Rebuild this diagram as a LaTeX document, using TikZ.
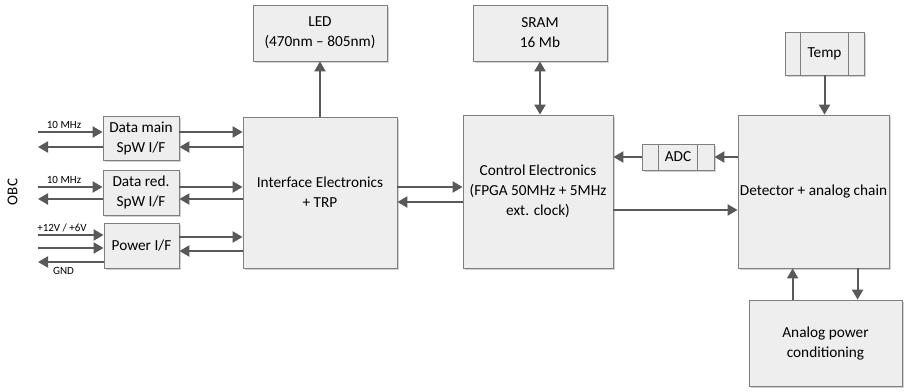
\documentclass[tikz,border=0pt]{standalone}
\usepackage{fontspec}
\setmainfont{Carlito}
\usetikzlibrary{arrows.meta,shadows,calc}
\definecolor{boxfill}{HTML}{EEEEEE}
\definecolor{boxline}{HTML}{7F7F7F}
\definecolor{arrcol}{HTML}{595959}
\tikzset{
  box/.style={draw=boxline, fill=boxfill, line width=0.8pt, align=center, inner sep=0pt,
    font=\fontsize{15.3}{20}\selectfont,
    drop shadow={shadow xshift=1.5pt, shadow yshift=-1.5pt, opacity=0.35, fill=gray}},
  arr/.style={draw=arrcol, line width=2pt, -{Triangle[length=10pt,width=11pt]}},
  darr/.style={draw=arrcol, line width=2pt, {Triangle[length=10pt,width=11pt]}-{Triangle[length=10pt,width=11pt]}},
  lbl/.style={font=\fontsize{11}{13}\selectfont, inner sep=1pt},
  inner line/.style={draw=boxline, line width=0.8pt}
}
\begin{document}
\begin{tikzpicture}[x=1pt,y=-1pt]
\useasboundingbox[fill=white] (0,0) rectangle (904,391);
% boxes
\node[box, minimum width=134pt, minimum height=56pt] (led) at (320,33) {LED\\(470nm -- 805nm)};
\node[box, minimum width=134pt, minimum height=56pt] (sram) at (540,33) {SRAM\\16 Mb};
\node[box, minimum width=79pt, minimum height=43pt] (temp) at (824.5,53.5) {Temp};
\draw[inner line] ([xshift=16pt]temp.north west) -- ([xshift=16pt]temp.south west);
\draw[inner line] ([xshift=-16pt]temp.north east) -- ([xshift=-16pt]temp.south east);
\node[box, minimum width=151pt, minimum height=153pt] (det) at (813.5,191.5) {Detector + analog chain};
\node[box, minimum width=153pt, minimum height=86pt] (apc) at (825.5,343) {Analog power\\conditioning};
\node[box, minimum width=72pt, minimum height=26pt] (adc) at (678,157) {ADC};
\draw[inner line] ([xshift=17pt]adc.north west) -- ([xshift=17pt]adc.south west);
\draw[inner line] ([xshift=-17pt]adc.north east) -- ([xshift=-17pt]adc.south east);
\node[box, minimum width=150pt, minimum height=153pt] (ce) at (538,191.5) {Control Electronics\\(FPGA 50MHz + 5MHz\\ext. clock)};
\node[box, minimum width=154pt, minimum height=151pt] (ie) at (320,192.5) {Interface Electronics\\+ TRP};
\node[box, minimum width=76pt, minimum height=44pt] (dm) at (141,138) {Data main\\SpW I/F};
\node[box, minimum width=76pt, minimum height=45pt] (dr) at (141,192.5) {Data red.\\SpW I/F};
\node[box, minimum width=75pt, minimum height=45pt] (pw) at (141.5,245.5) {Power I/F};
% free ends
\coordinate (a1) at (38,132);
\coordinate (a2) at (38,147);
\coordinate (b1) at (38,187);
\coordinate (b2) at (38,199);
\coordinate (c1) at (38,235);
\coordinate (c2) at (38,248);
\coordinate (c3) at (38,262);
% left side
\draw[arr] (a1) -- (a1 -| dm.west);
\draw[arr] (a2 -| dm.west) -- (a2);
\draw[arr] (b1) -- (b1 -| dr.west);
\draw[arr] (b2 -| dr.west) -- (b2);
\draw[arr] (c1) -- (c1 -| pw.west);
\draw[arr] (c2) -- (c2 -| pw.west);
\draw[arr] (c3 -| pw.west) -- (c3);
\node[lbl, anchor=south] (l1) at (64,130) {10 MHz};
\node[lbl, anchor=south] (l2) at (64,185) {10 MHz};
\node[lbl, anchor=south] (l3) at (62,233) {+12V / +6V};
\node[lbl, anchor=north] (l4) at (63.5,266) {GND};
\node[font=\fontsize{15}{18}\selectfont, rotate=90] (obc) at (12.5,192) {OBC};
% to interface
\draw[arr] ([yshift=6pt]dm.east) -- ([yshift=6pt]dm.east -| ie.west);
\draw[arr] ([yshift=-9pt]dm.east -| ie.west) -- ([yshift=-9pt]dm.east);
\draw[arr] ([yshift=5.5pt]dr.east) -- ([yshift=5.5pt]dr.east -| ie.west);
\draw[arr] ([yshift=-6.5pt]dr.east -| ie.west) -- ([yshift=-6.5pt]dr.east);
\draw[arr] ([yshift=8.5pt]pw.east) -- ([yshift=8.5pt]pw.east -| ie.west);
\draw[arr] ([yshift=-5.5pt]pw.east -| ie.west) -- ([yshift=-5.5pt]pw.east);
% interface <-> control
\draw[arr] ([yshift=5.5pt]ie.east) -- ([yshift=5.5pt]ie.east -| ce.west);
\draw[arr] ([yshift=-9.5pt]ie.east -| ce.west) -- ([yshift=-9.5pt]ie.east);
% LED, SRAM
\draw[arr] (ie.north) -- (led.south);
\draw[darr] (sram.south) -- (sram.south |- ce.north);
% control -> detector
\draw[arr] ([yshift=-18.5pt]ce.east) -- ([yshift=-18.5pt]ce.east -| det.west);
% detector -> ADC -> control
\draw[arr] (adc.east -| det.west) -- (adc.east);
\draw[arr] (adc.west) -- (adc.west -| ce.east);
% temp -> detector
\draw[arr] (temp.south) -- (temp.south |- det.north);
% detector <-> analog
\draw[arr] ([xshift=44pt]apc.north west) -- ([xshift=44pt]apc.north west |- det.south);
\draw[arr] ([xshift=109pt]apc.north west |- det.south) -- ([xshift=109pt]apc.north west);
\end{tikzpicture}
\end{document}
